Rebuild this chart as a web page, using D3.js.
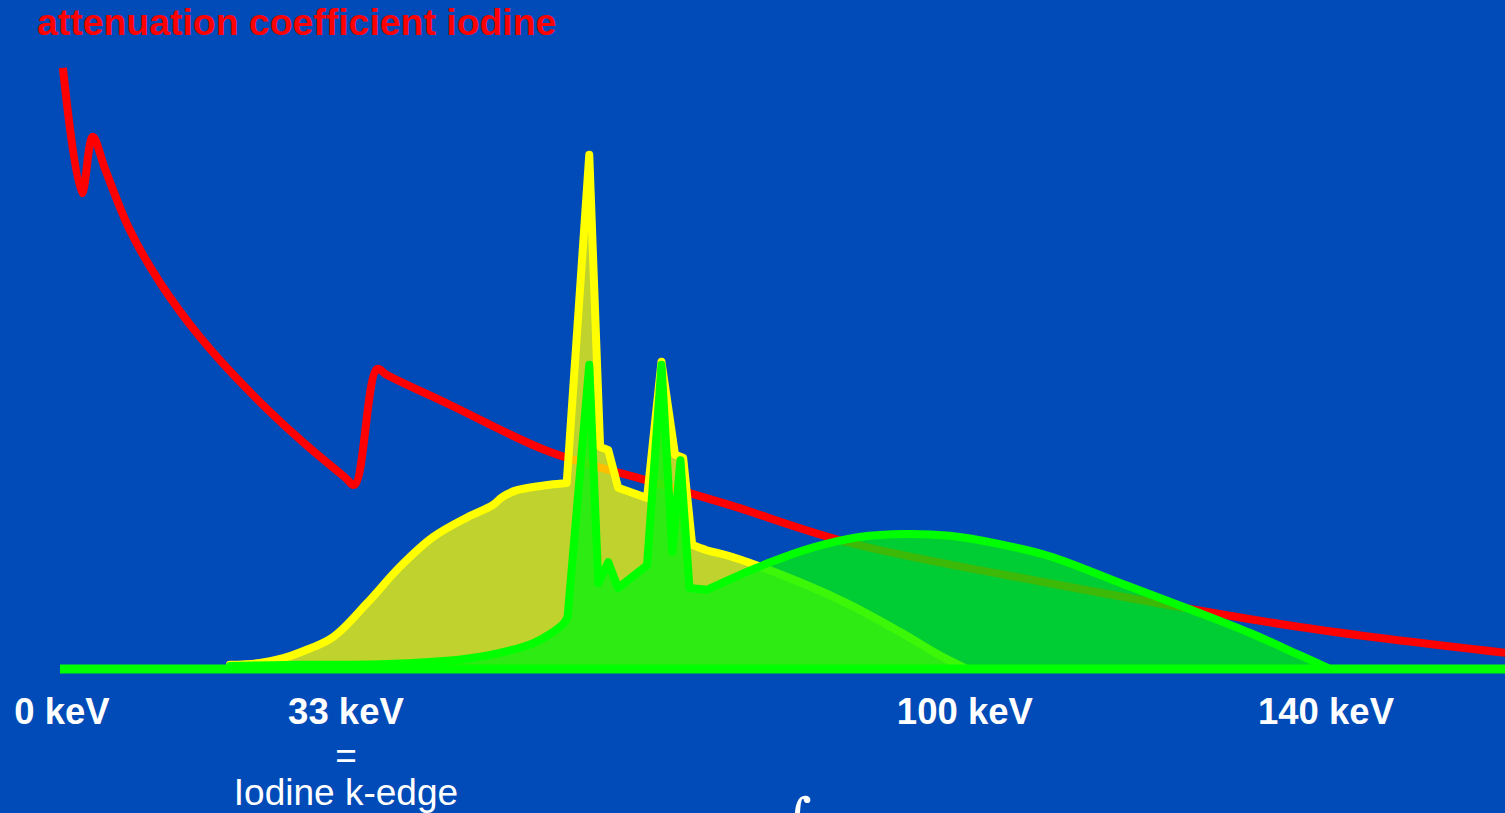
<!DOCTYPE html>
<html>
<head>
<meta charset="utf-8">
<script src="https://cdn.jsdelivr.net/npm/d3@7"></script>
<style>
  html, body { margin: 0; padding: 0; background: #004BB8; overflow: hidden; }
  svg { display: block; }
</style>
</head>
<body>
<svg id="chart" width="1505" height="813"></svg>
<script>
// ---------- data (energy in keV, relative intensity 0..100) ----------
const redKeV = [0.1, 2.2, 3.4, 4.8, 7.5, 10.9, 15.3, 20.8, 26.4, 31.3, 32.4, 34.9, 36.0, 43.0, 54.0, 65.1, 74.0, 87.3, 109.4, 137.1, 160.5];
const redVal = [100.2, 79.3, 88.7, 83.2, 73.2, 64.3, 55.3, 46.2, 38.2, 32.0, 30.7, 50.0, 49.0, 44.0, 36.2, 31.3, 27.3, 21.0, 14.3, 7.0, 2.6];

const tube100KeV = [18.6, 21.9, 24.5, 26.4, 30.0, 33.8, 37.4, 41.1, 44.9, 47.7, 48.8, 50.4, 54.0, 55.9, 58.4, 59.6, 60.5, 61.6, 64.8, 66.4, 67.9, 68.8, 69.8, 71.4, 74.0, 81.7, 87.3, 92.8, 97.2, 100.0];
const tube100Val = [0.7, 1.0, 1.8, 2.8, 5.3, 11.0, 17.0, 22.0, 25.3, 27.3, 28.7, 29.8, 30.7, 31.0, 85.7, 37.0, 36.5, 30.2, 28.5, 51.2, 35.7, 35.2, 20.7, 19.8, 18.8, 14.5, 10.7, 6.2, 2.3, 0.2];
const tube100Lines = [55.9, 69.8];   // keV range of characteristic lines (straight-sided peaks)

const tube140KeV = [18.6, 26.4, 35.2, 41.1, 45.2, 48.5, 52.2, 55.5, 56.0, 58.4, 59.4, 60.5, 61.6, 64.8, 66.4, 67.6, 68.5, 69.5, 71.4, 75.1, 78.3, 83.3, 88.3, 93.4, 98.3, 103.9, 109.4, 117.8, 125.2, 131.6, 137.1, 140.2];
const tube140Val = [0.5, 0.7, 0.8, 1.2, 1.8, 2.7, 4.3, 7.5, 8.7, 50.7, 14.3, 17.8, 13.5, 17.3, 50.7, 19.5, 34.8, 13.5, 13.2, 15.7, 17.7, 20.3, 22.0, 22.5, 22.2, 20.8, 18.8, 14.0, 9.8, 6.0, 2.3, 0.2];
const tube140Lines = [56.0, 71.4];

const tickKeV = [0, 33, 100, 140];
const tickLabels = ["0 keV", "33 keV", "100 keV", "140 keV"];
const titleText = "attenuation coefficient iodine";
const kEdgeNote = ["=", "Iodine k-edge"];

// ---------- layout ----------
const svg = d3.select("#chart");
const W = 1505, H = 813;
svg.append("rect").attr("width", W).attr("height", H).attr("fill", "#004BB8");

const x = d3.scaleLinear().domain([0, 140]).range([62, 1326]);
const y = d3.scaleLinear().domain([0, 100]).range([669, 69]);

const zip = (a, b) => a.map((k, i) => [k, b[i]]);
const smoothLine = d3.line().x(d => x(d[0])).y(d => y(d[1])).curve(d3.curveCatmullRom.alpha(0.5));
const straightLine = d3.line().x(d => x(d[0])).y(d => y(d[1])).curve(d3.curveLinear);

// smooth continuum, straight segments through the characteristic line peaks
function spectrumPath(data, range) {
  const a = data.filter(d => d[0] <= range[0]);
  const b = data.filter(d => d[0] >= range[0] && d[0] <= range[1]);
  const c = data.filter(d => d[0] >= range[1]);
  const parts = [smoothLine(a), straightLine(b), smoothLine(c)];
  return parts.map((p, i) => i === 0 ? p : p.replace(/^M/, "L")).join("");
}
function areaPath(data, range) {
  const top = spectrumPath(data, range);
  const first = data[0], last = data[data.length - 1];
  return top + `L${x(last[0])},${y(0)}L${x(first[0])},${y(0)}Z`;
}

// attenuation curve (drawn first, underneath the spectra)
svg.append("path")
  .datum(zip(redKeV, redVal))
  .attr("d", smoothLine)
  .attr("fill", "none")
  .attr("stroke", "#FF0000")
  .attr("stroke-width", 8)
  .attr("stroke-linejoin", "round")
  .attr("stroke-linecap", "butt");

// 100 kVp spectrum
const d100 = zip(tube100KeV, tube100Val);
svg.append("path").attr("d", areaPath(d100, tube100Lines))
  .attr("fill", "#FFFF00").attr("fill-opacity", 0.75);
svg.append("path").attr("d", spectrumPath(d100, tube100Lines))
  .attr("fill", "none").attr("stroke", "#FFFF00").attr("stroke-width", 8)
  .attr("stroke-linejoin", "round").attr("stroke-linecap", "round");

// 140 kVp spectrum
const d140 = zip(tube140KeV, tube140Val);
svg.append("path").attr("d", areaPath(d140, tube140Lines))
  .attr("fill", "rgb(0,245,10)").attr("fill-opacity", 0.76);
svg.append("path").attr("d", spectrumPath(d140, tube140Lines))
  .attr("fill", "none").attr("stroke", "#00FF00").attr("stroke-width", 8)
  .attr("stroke-linejoin", "round").attr("stroke-linecap", "round");

// baseline axis
svg.append("line")
  .attr("x1", x(0) - 2).attr("x2", W)
  .attr("y1", y(0)).attr("y2", y(0))
  .attr("stroke", "#00FF00").attr("stroke-width", 9);

// title
svg.append("text")
  .attr("x", 37).attr("y", 35)
  .attr("fill", "#FF0000")
  .attr("font-family", "'Liberation Sans', Arial, sans-serif")
  .attr("font-weight", "bold")
  .attr("font-size", 37.4)
  .text(titleText);

// tick labels
const labelShift = { 33: -14 };
const ticks = svg.append("g")
  .attr("font-family", "'Liberation Sans', Arial, sans-serif")
  .attr("font-weight", "bold")
  .attr("font-size", 36.5)
  .attr("fill", "#FFFFFF")
  .attr("text-anchor", "middle");
ticks.selectAll("text").data(tickKeV).join("text")
  .attr("x", d => x(d) + (labelShift[d] || 0))
  .attr("y", 724)
  .text((d, i) => tickLabels[i]);

// k-edge note
const note = svg.append("g")
  .attr("font-family", "'Liberation Sans', Arial, sans-serif")
  .attr("font-size", 37)
  .attr("fill", "#FFFFFF")
  .attr("text-anchor", "middle");
note.selectAll("text").data(kEdgeNote).join("text")
  .attr("x", x(33) + labelShift[33])
  .attr("y", (d, i) => 768 + i * 37)
  .text(d => d);

// partial glyph at bottom edge (cut off in the original too)
svg.append("text")
  .attr("x", 797).attr("y", 838)
  .attr("fill", "#FFFFFF")
  .attr("font-family", "'DejaVu Serif', serif")
  .attr("font-style", "italic")
  .attr("font-size", 56)
  .attr("text-anchor", "middle")
  .text("∫");
</script>
</body>
</html>
